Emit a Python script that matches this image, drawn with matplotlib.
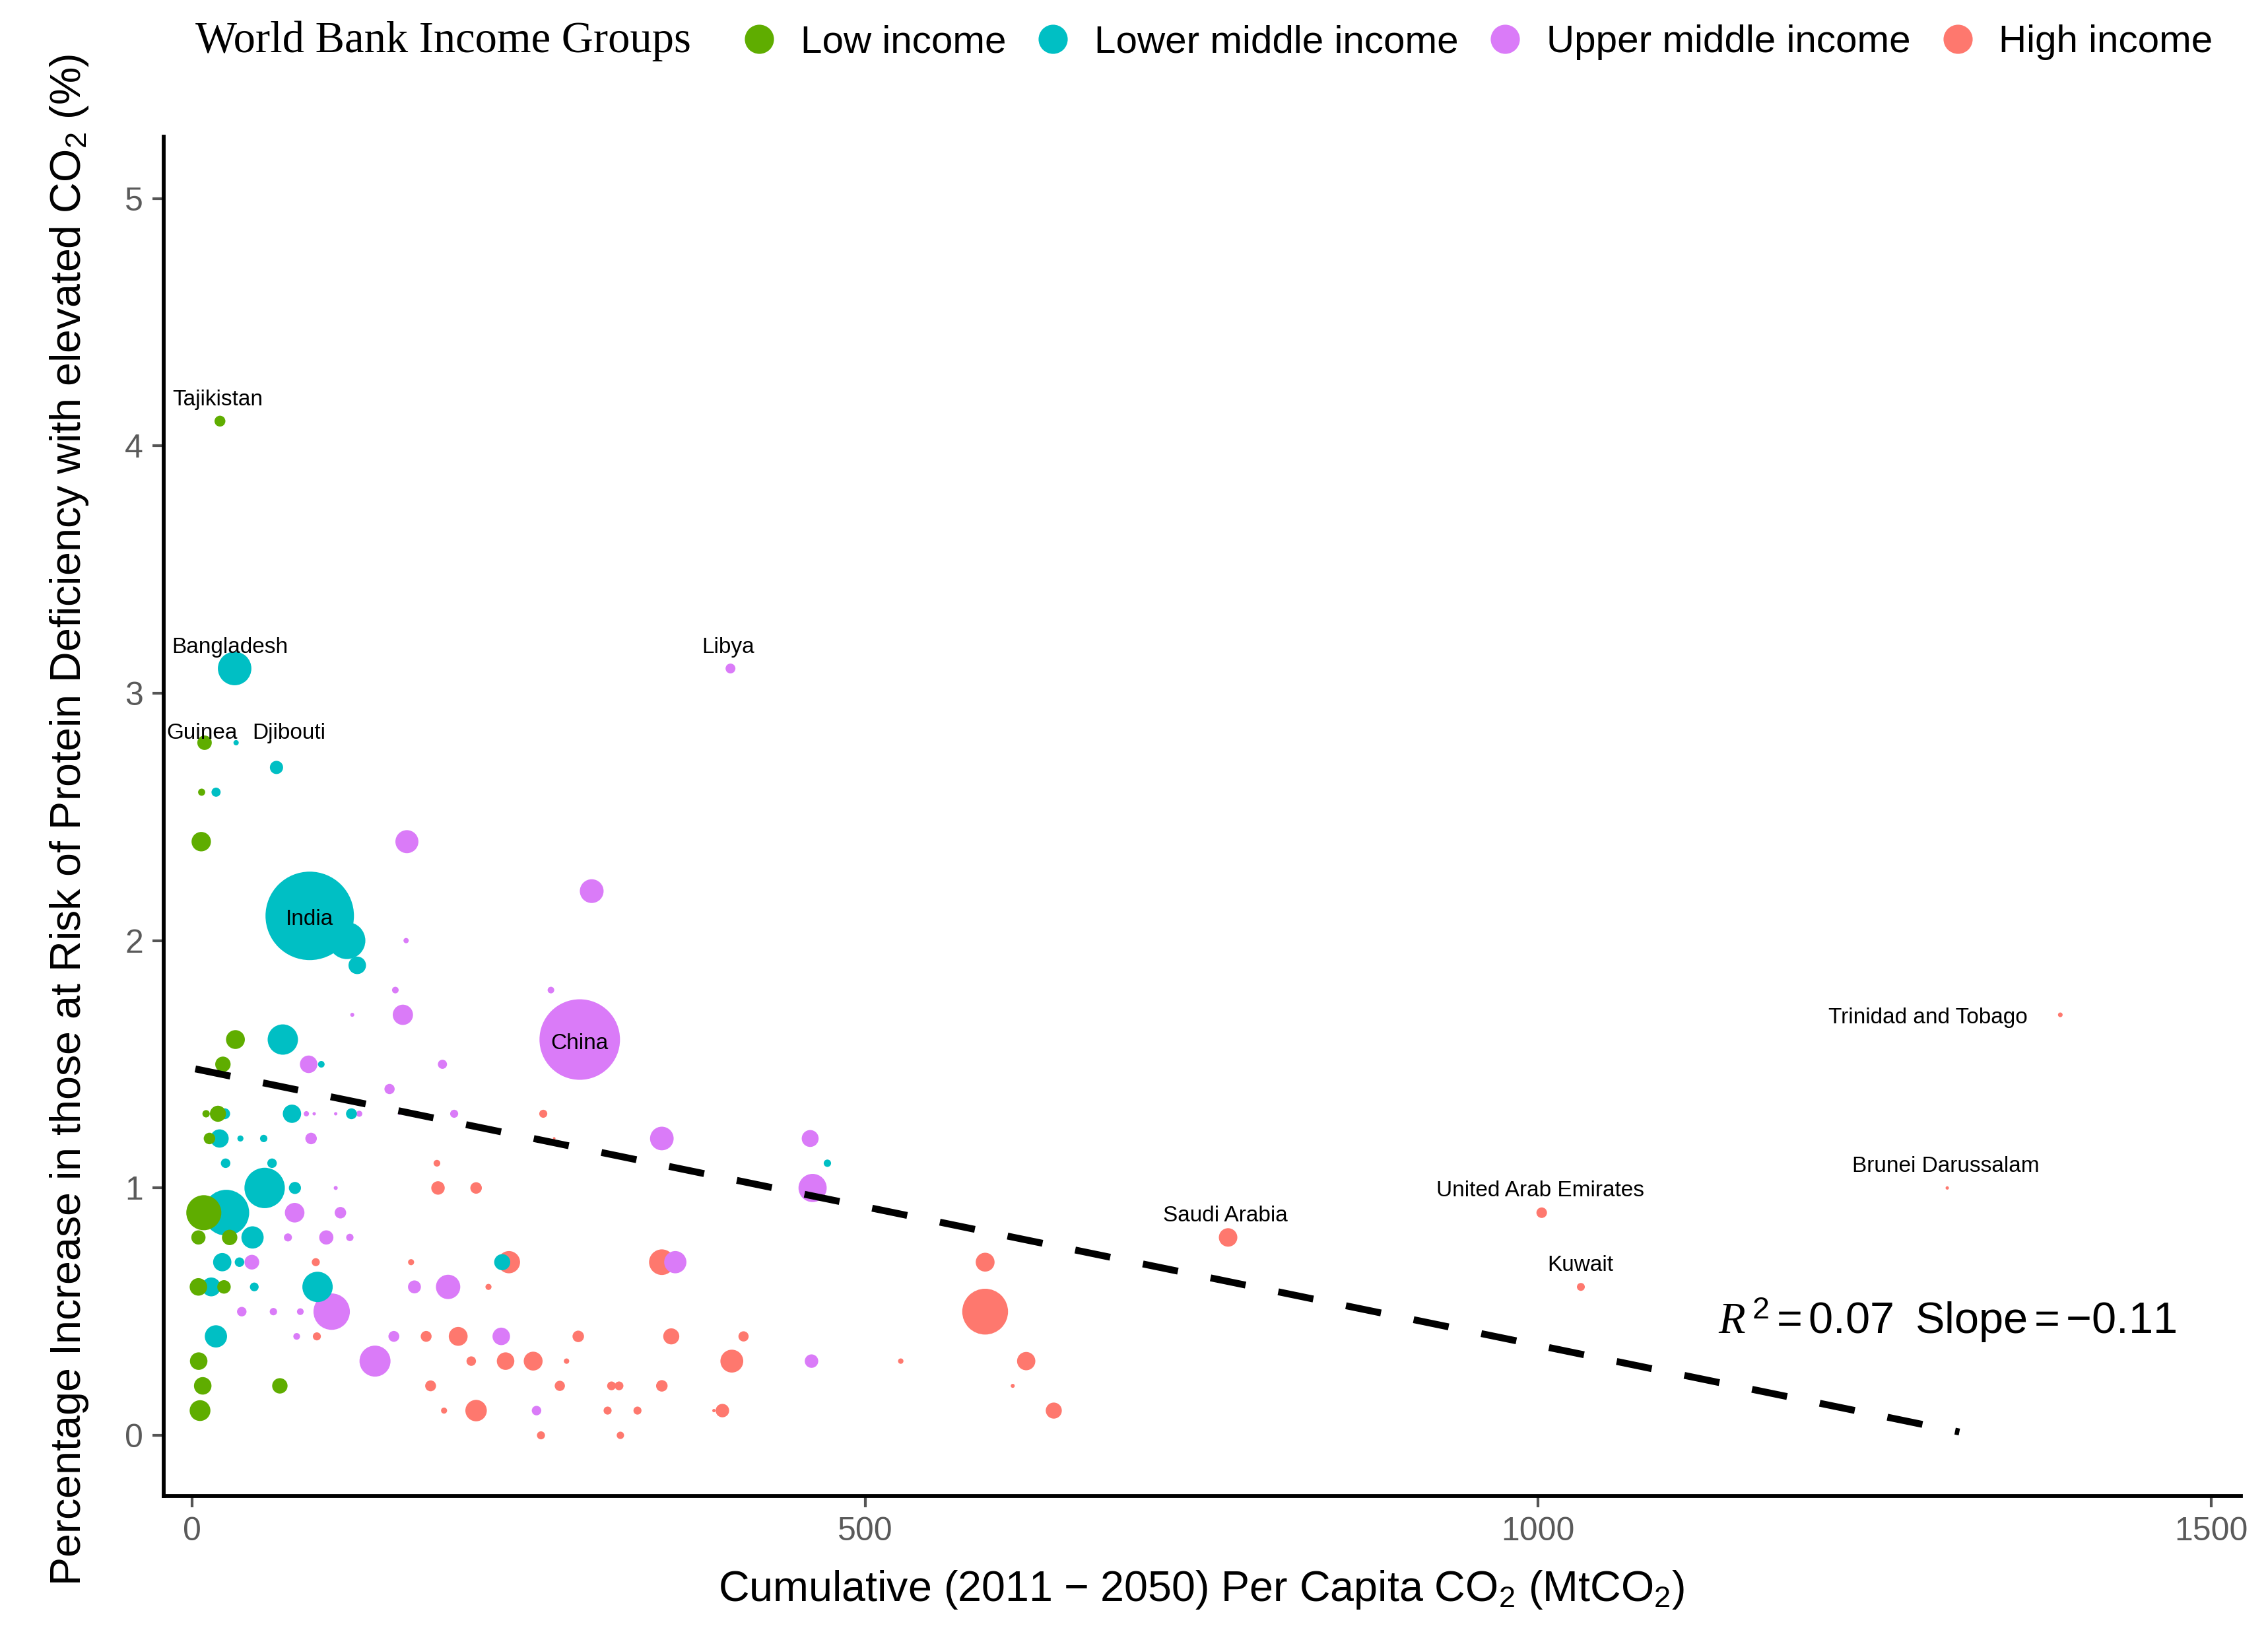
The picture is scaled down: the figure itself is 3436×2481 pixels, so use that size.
import numpy as np
import matplotlib
matplotlib.use("Agg")
import matplotlib.pyplot as plt
from matplotlib.lines import Line2D

plt.rcParams['font.family'] = ['Liberation Sans', 'DejaVu Sans']
plt.rcParams['mathtext.fontset'] = 'custom'
plt.rcParams['mathtext.rm'] = 'Liberation Sans'
plt.rcParams['mathtext.it'] = 'Liberation Serif:italic'
plt.rcParams['mathtext.bf'] = 'Liberation Sans:bold'

# ---------------- data ----------------
groups = ["Low income", "Lower middle income", "Upper middle income", "High income"]
group_colors = ["#5FAD00", "#00BFC4", "#DA7BF8", "#FE786E"]

# Low income: cumulative per-capita CO2, % increase at risk, population (millions, bubble size)
low_x = [20.7, 9.25, 7.1, 6.8, 32.2, 22.9, 10.4, 19.2, 12.9, 8.7, 4.7, 27.9, 4.7, 23.7, 4.9, 7.9, 65.2, 5.9]
low_y = [4.1, 2.8, 2.6, 2.4, 1.6, 1.5, 1.3, 1.3, 1.2, 0.9, 0.8, 0.8, 0.6, 0.6, 0.3, 0.2, 0.2, 0.1]
low_pop = [17, 30, 7.3, 54, 51, 34, 7.8, 37, 19, 176, 29, 34, 44, 26, 44, 44, 34, 62]

lmid_x = [87.4, 115, 122.7, 17.8, 62.7, 32.7, 31.6, 67.4, 96, 24.2, 74.2, 118.4, 20.4, 35.9,
          53.2, 24.9, 59.4, 472, 53.9, 76.4, 25.4, 44.9, 22.4, 35.2, 230.4, 14.2, 46.2, 93.2, 17.7]
lmid_y = [2.1, 2.0, 1.9, 2.6, 2.7, 2.8, 3.1, 1.6, 1.5, 1.3, 1.3, 1.3, 1.2, 1.2,
          1.2, 1.1, 1.1, 1.1, 1.0, 1.0, 0.9, 0.8, 0.7, 0.7, 0.7, 0.6, 0.6, 0.6, 0.4]
lmid_pop = [1122, 196, 44, 12, 25, 4, 161, 132, 6.3, 17, 48, 17, 48, 5.3,
            7.8, 13, 13, 7.8, 234, 21, 301, 71, 48, 13, 37, 51, 11, 132, 71]

umid_x = [400, 296.9, 159.6, 159, 151, 266.6, 119, 156.6, 288, 86.6, 186, 146.7, 84.9, 90.7,
          106.7, 124.2, 154, 194.7, 88.4, 349, 459.2, 106.7, 461, 76.2, 110.2, 71.2, 99.7, 117.2,
          44.4, 359, 165.2, 190.2, 36.9, 60.4, 80.4, 103.7, 77.7, 149.9, 229.7, 135.9, 460.2, 255.9]
umid_y = [3.1, 2.2, 2.4, 2.0, 1.8, 1.8, 1.7, 1.7, 1.6, 1.5, 1.5, 1.4, 1.3, 1.3,
          1.3, 1.3, 1.3, 1.3, 1.2, 1.2, 1.2, 1.0, 1.0, 0.9, 0.9, 0.8, 0.8, 0.8,
          0.7, 0.7, 0.6, 0.6, 0.5, 0.5, 0.5, 0.5, 0.4, 0.4, 0.4, 0.3, 0.3, 0.1]
umid_pop = [14, 81, 76, 4, 6.3, 6.3, 2.3, 59, 930, 44, 12, 15, 4, 1.6,
            1.6, 5.3, 1, 9.3, 19, 80, 41, 2.3, 114, 55, 19, 9.3, 29, 7.8,
            31, 71, 24, 85, 13, 7.8, 6.5, 190, 6.5, 17, 44, 138, 26, 13]

high_x = [260.9, 269, 181.9, 182.7, 211, 1002.7, 769.7, 91.9, 162.7, 235.4, 349, 589.2, 220.2,
          1031.8, 589.2, 92.7, 173.9, 197.7, 286.9, 356, 409.7, 207.4, 232.9, 253.4, 278.2, 401,
          526.5, 619.7, 177.2, 273.2, 311.6, 317.2, 349, 609.7, 187.2, 211, 308.7, 330.9, 394,
          387.7, 640.2, 259.2, 318.2, 1388, 1304]
high_y = [1.3, 1.2, 1.1, 1.0, 1.0, 0.9, 0.8, 0.7, 0.7, 0.7, 0.7, 0.7, 0.6,
          0.6, 0.5, 0.4, 0.4, 0.4, 0.4, 0.4, 0.4, 0.3, 0.3, 0.3, 0.3, 0.3,
          0.3, 0.3, 0.2, 0.2, 0.2, 0.2, 0.2, 0.2, 0.1, 0.1, 0.1, 0.1, 0.1,
          0.1, 0.1, 0.0, 0.0, 1.7, 1.0]
high_pop = [9.3, 1, 6.5, 26, 19, 16, 49, 9.3, 5.3, 71, 94, 51, 5.3,
            9, 301, 9.3, 17, 51, 19, 37, 15, 13, 44, 51, 4.2, 75,
            4.2, 48, 17, 15, 11, 11, 19, 2.3, 5.3, 66, 9.3, 9.3, 26,
            1.6, 37, 9.3, 7.8, 3.1, 1.6]

label_names = ["Tajikistan", "Bangladesh", "Guinea", "Djibouti", "Libya", "India", "China",
               "Trinidad and Tobago", "Brunei Darussalam", "United Arab Emirates",
               "Saudi Arabia", "Kuwait"]
label_x = [18.9, 28, 7.3, 72.1, 398.2, 87.4, 287.6, 1363.8, 1303, 1001.6, 767.8, 1031.3]
label_y = [4.163, 3.164, 2.816, 2.816, 3.164, 2.064, 1.562, 1.665, 1.064, 0.967, 0.865, 0.664]
label_ha = ["center"] * 7 + ["right"] + ["center"] * 4

fit_intercept = 1.484
fit_slope = -0.00112
fit_x_range = [2.4, 1313]
r_squared = 0.07
slope_label = -0.11

x_ticks = [0, 500, 1000, 1500]
y_ticks = [0, 1, 2, 3, 4, 5]

# ---------------- figure ----------------
DPI = 300
fig = plt.figure(figsize=(3436 / DPI, 2481 / DPI), dpi=DPI)
ax = fig.add_axes([248 / 3436, 1 - 2266 / 2481, (3395 - 248) / 3436, (2266 - 207) / 2481])


def sizes(pop):
    r_px = 2.0 * np.sqrt(np.asarray(pop, dtype=float))
    return (2 * r_px * 72.0 / DPI) ** 2


series = [(high_x, high_y, high_pop, 3), (umid_x, umid_y, umid_pop, 2),
          (lmid_x, lmid_y, lmid_pop, 1), (low_x, low_y, low_pop, 0)]
for k, (xs, ys, ps, gi) in enumerate(series):
    ax.scatter(xs, ys, s=sizes(ps), c=group_colors[gi], edgecolors='none',
               linewidths=0, zorder=2 + k * 0.1)

fx = np.array(fit_x_range)
ax.plot(fx, fit_intercept + fit_slope * fx, color='black', lw=2.5,
        linestyle=(0, (5.2, 4.85)), dash_capstyle='butt', zorder=4)

for name, lx, ly, ha in zip(label_names, label_x, label_y, label_ha):
    ax.text(lx, ly, name, ha=ha, va='baseline', fontsize=8, color='black', zorder=5)

ax.text(1304, 0.411, r"$R^{\,2} = %.2f\ \ \mathrm{Slope} = %.2f$" % (r_squared, slope_label),
        ha='center', va='baseline', fontsize=16, color='black', zorder=5)

ax.set_xlim(-21.1, 1522.2)
ax.set_ylim(-0.2455, 5.25)
ax.set_xticks(x_ticks)
ax.set_yticks(y_ticks)
for s in ['top', 'right']:
    ax.spines[s].set_visible(False)
for s in ['left', 'bottom']:
    ax.spines[s].set_linewidth(1.4)
    ax.spines[s].set_color('black')
ax.tick_params(axis='both', length=4.1, width=1.0, color='#555555',
               labelsize=12, labelcolor='#5a5a5a', pad=3.3)

fig.text(0.5298, 1 - 2425 / 2481,
         r"Cumulative $(2011\,-\,2050)$ Per Capita CO$_2$ (MtCO$_2$)",
         ha='center', va='baseline', fontsize=15.5)
fig.text(105 / 3436, 1 - 1242 / 2481,
         r"Percentage Increase in those at Risk of Protein Deficiency with elevated CO$_2$ (%)",
         ha='center', va='center', rotation=90, fontsize=15.5)

# legend
handles = [Line2D([0], [0], marker='o', linestyle='none', markersize=10.6,
                  markerfacecolor=c, markeredgecolor='none') for c in group_colors]
fig.legend(handles, groups, loc='center left', bbox_to_anchor=(1121 / 3436, 1 - 64 / 2481),
           ncol=4, frameon=False, fontsize=14, handlelength=1.0, handletextpad=0.57,
           columnspacing=0.72, borderpad=0, borderaxespad=0)
fig.text(296 / 3436, 1 - 62 / 2481, "World Bank Income Groups", ha='left', va='center',
         fontsize=16, family='Liberation Serif')

fig.savefig("out.png", dpi=DPI)
